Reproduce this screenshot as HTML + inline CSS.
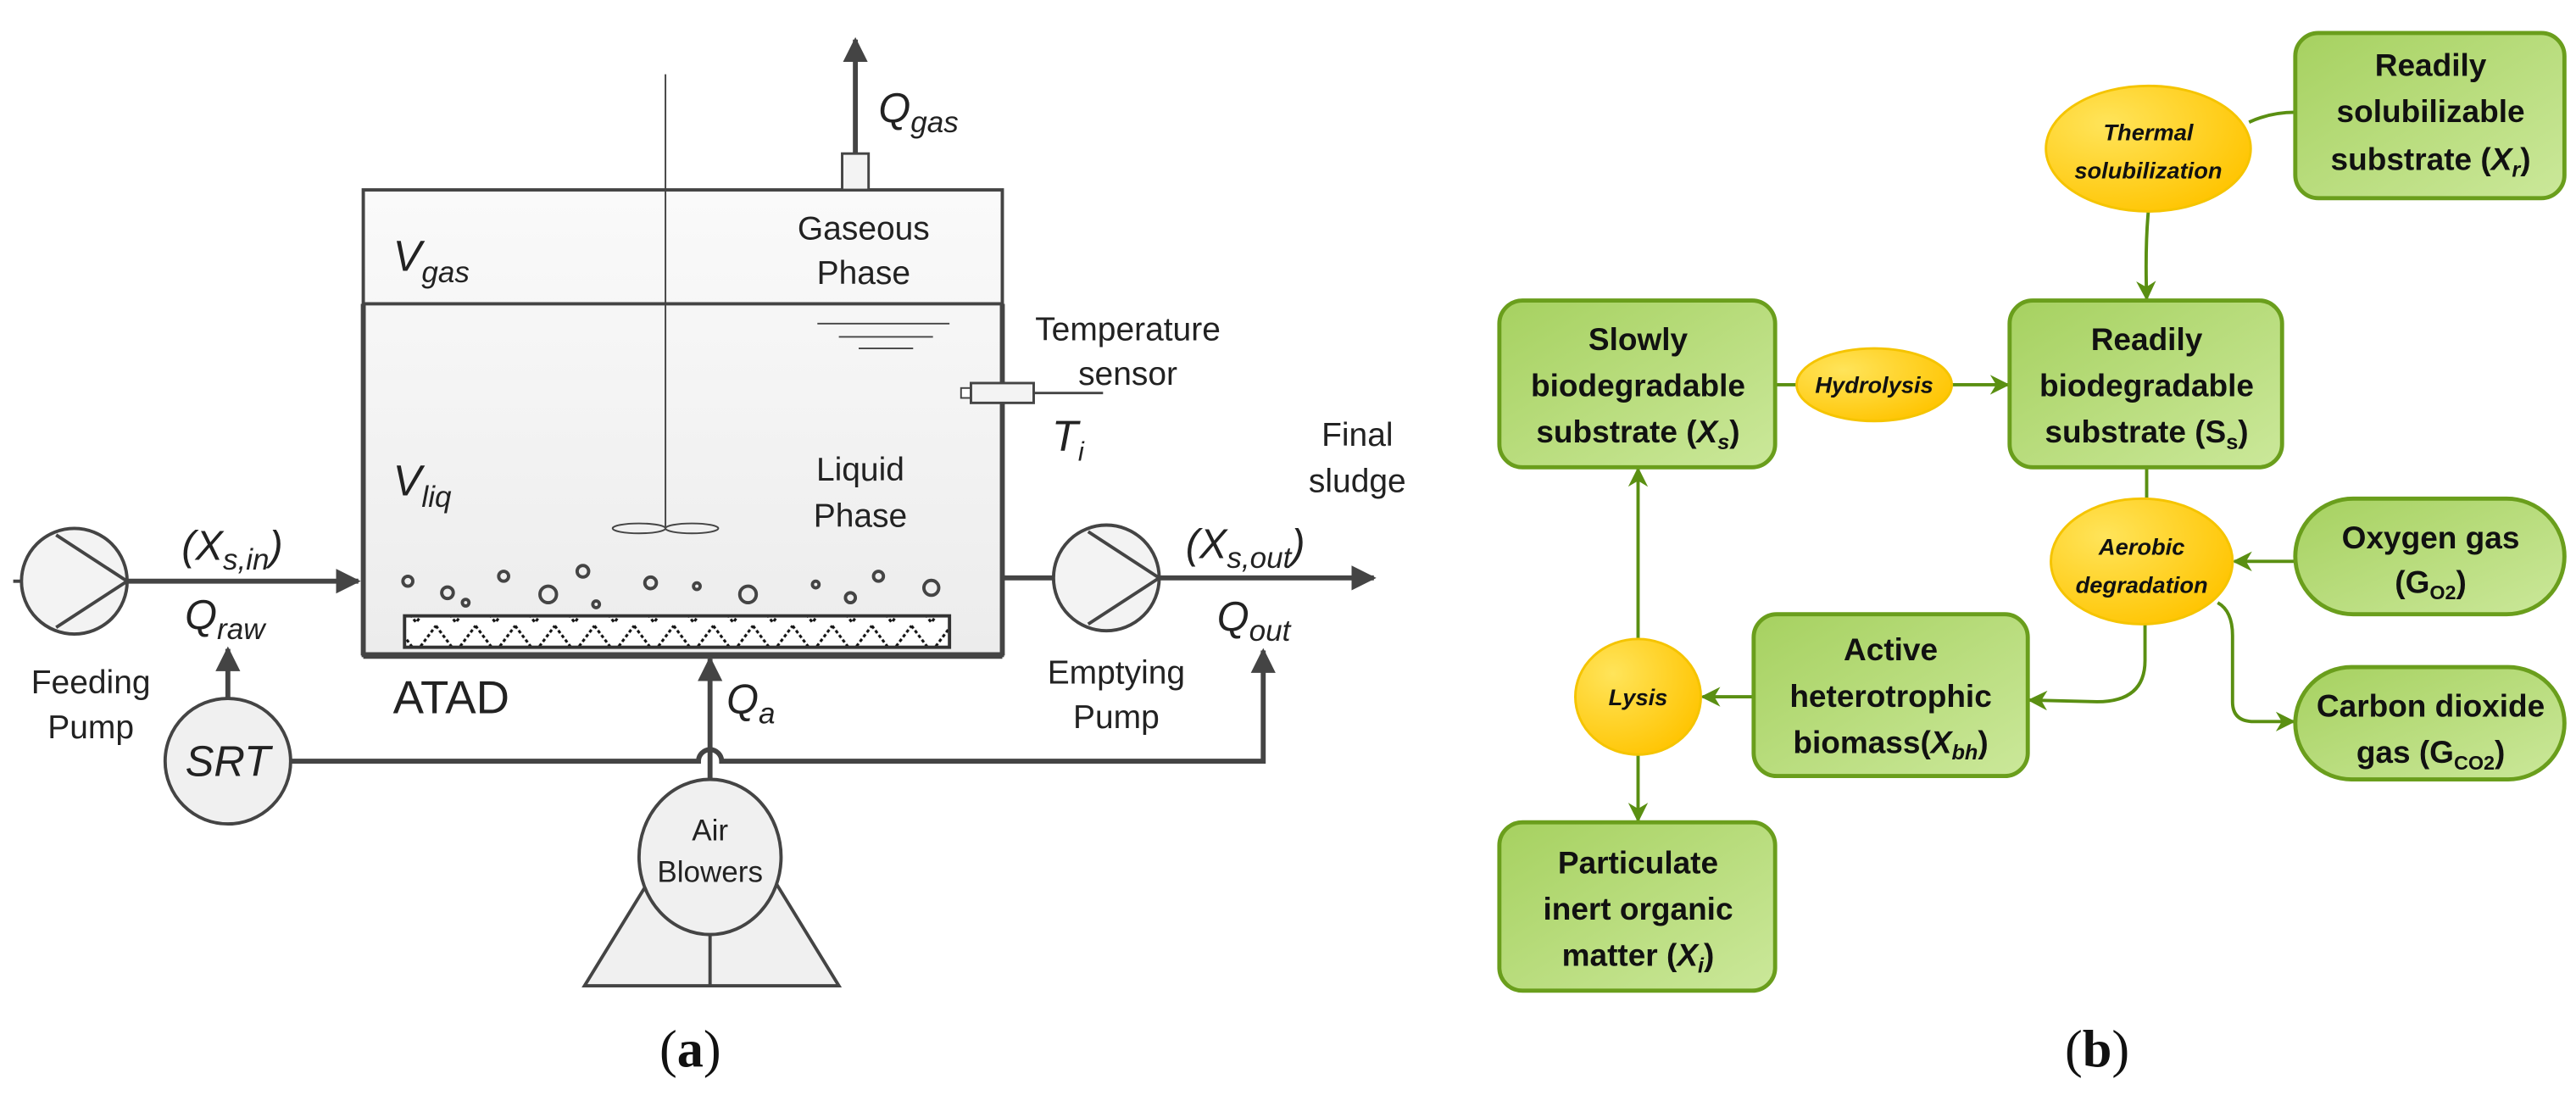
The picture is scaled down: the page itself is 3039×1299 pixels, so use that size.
<!DOCTYPE html>
<html><head><meta charset="utf-8"><style>
html,body{margin:0;padding:0;background:#fff;}
svg{display:block;}
.a{font-family:"Liberation Sans",sans-serif;fill:#222;}
.b{font-family:"Liberation Sans",sans-serif;fill:#111;font-size:19px;font-weight:bold;text-anchor:middle;}
.e{font-family:"Liberation Sans",sans-serif;fill:#111;font-size:14px;font-style:italic;font-weight:bold;text-anchor:middle;}
</style></head><body>
<svg width="3039" height="1299" viewBox="0 0 1560 666.8" xmlns="http://www.w3.org/2000/svg">
<defs>
<marker id="ar" viewBox="0 0 10 10" refX="9" refY="5" markerWidth="5" markerHeight="5" orient="auto-start-reverse"><path d="M0,0 L10,5 L0,10 z" fill="#444"/></marker>
<marker id="ag" viewBox="0 0 10 10" refX="9" refY="5" markerWidth="6" markerHeight="6" orient="auto-start-reverse"><path d="M0,0 L10,5 L0,10 L3,5 z" fill="#5a8f12"/></marker>
<linearGradient id="gt" x1="0" y1="0" x2="0" y2="1"><stop offset="0" stop-color="#fafafa"/><stop offset="1" stop-color="#ececec"/></linearGradient>
<linearGradient id="gg" x1="0" y1="0" x2="1" y2="1"><stop offset="0" stop-color="#a6d160"/><stop offset="1" stop-color="#cbe89a"/></linearGradient>
<radialGradient id="gy" cx="0.3" cy="0.3" r="0.8"><stop offset="0" stop-color="#ffe45a"/><stop offset="1" stop-color="#ffc400"/></radialGradient>
<pattern id="zz" width="24" height="18" patternUnits="userSpaceOnUse"><rect width="24" height="18" fill="#fff"/><path d="M0,1 L12,17 L24,1" fill="none" stroke="#111" stroke-width="1.6" stroke-dasharray="2 1.5"/></pattern>
</defs>

<!-- (a) tank -->
<rect x="220" y="115" width="387" height="282" fill="url(#gt)" stroke="#444" stroke-width="2"/>
<line x1="220" y1="184" x2="607" y2="184" stroke="#444" stroke-width="2"/>
<line x1="220" y1="397" x2="607" y2="397" stroke="#444" stroke-width="4"/>
<line x1="220" y1="184" x2="220" y2="397" stroke="#444" stroke-width="3"/>
<line x1="607" y1="184" x2="607" y2="397" stroke="#444" stroke-width="3"/>
<rect x="510" y="93" width="16" height="22" fill="#f3f3f3" stroke="#444" stroke-width="1.5"/>
<line x1="518" y1="93" x2="518" y2="24" stroke="#444" stroke-width="3" marker-end="url(#ar)"/>
<text class="a" x="532" y="74" font-size="25" font-style="italic">Q<tspan font-size="18" dy="6">gas</tspan></text>
<line x1="403" y1="45" x2="403" y2="320" stroke="#444" stroke-width="1"/>
<ellipse cx="387" cy="320" rx="16" ry="3" fill="none" stroke="#444" stroke-width="1"/>
<ellipse cx="419" cy="320" rx="16" ry="3" fill="none" stroke="#444" stroke-width="1"/>
<text class="a" x="238" y="164" font-size="26" font-style="italic">V<tspan font-size="18" dy="7">gas</tspan></text>
<text class="a" x="523" y="145" font-size="20" text-anchor="middle">Gaseous</text>
<text class="a" x="523" y="172" font-size="20" text-anchor="middle">Phase</text>
<g stroke="#444" stroke-width="1"><line x1="495" y1="196" x2="575" y2="196"/><line x1="508" y1="204" x2="565" y2="204"/><line x1="520" y1="211" x2="553" y2="211"/></g>
<rect x="582" y="235" width="6" height="6" fill="#fff" stroke="#444"/>
<rect x="588" y="232" width="38" height="12" fill="#f3f3f3" stroke="#444" stroke-width="1.5"/>
<line x1="626" y1="238" x2="668" y2="238" stroke="#444" stroke-width="1.5"/>
<text class="a" x="683" y="206" font-size="20" text-anchor="middle">Temperature</text>
<text class="a" x="683" y="233" font-size="20" text-anchor="middle">sensor</text>
<text class="a" x="637" y="273" font-size="26" font-style="italic">T<tspan font-size="16" dy="6">i</tspan></text>
<text class="a" x="238" y="300" font-size="26" font-style="italic">V<tspan font-size="18" dy="7">liq</tspan></text>
<text class="a" x="521" y="291" font-size="20" text-anchor="middle">Liquid</text>
<text class="a" x="521" y="319" font-size="20" text-anchor="middle">Phase</text>
<g fill="none" stroke="#444" stroke-width="2">
<circle cx="247" cy="352" r="3"/><circle cx="271" cy="359" r="3.5"/><circle cx="282" cy="365" r="2"/><circle cx="305" cy="349" r="3"/><circle cx="332" cy="360" r="5"/><circle cx="353" cy="346" r="3.5"/><circle cx="361" cy="366" r="2"/><circle cx="394" cy="353" r="3.5"/><circle cx="422" cy="355" r="2"/><circle cx="453" cy="360" r="5"/><circle cx="494" cy="354" r="2"/><circle cx="515" cy="362" r="3"/><circle cx="532" cy="349" r="3"/><circle cx="564" cy="356" r="4.5"/>
</g>
<rect x="245" y="373" width="330" height="19" fill="url(#zz)" stroke="#333" stroke-width="2"/>
<text class="a" x="238" y="432" font-size="28">ATAD</text>
<!-- feeding pump -->
<line x1="8" y1="352" x2="13" y2="352" stroke="#444" stroke-width="2"/>
<circle cx="45" cy="352" r="32" fill="#f3f3f3" stroke="#444" stroke-width="2"/>
<path d="M34,324 L77,352 L34,380" fill="none" stroke="#444" stroke-width="2"/>
<line x1="77" y1="352" x2="217" y2="352" stroke="#444" stroke-width="3" marker-end="url(#ar)"/>
<text class="a" x="110" y="339" font-size="25" font-style="italic">(X<tspan font-size="18" dy="6">s,in</tspan><tspan dy="-6">)</tspan></text>
<text class="a" x="112" y="381" font-size="25" font-style="italic">Q<tspan font-size="18" dy="6">raw</tspan></text>
<text class="a" x="55" y="420" font-size="20" text-anchor="middle">Feeding</text>
<text class="a" x="55" y="447" font-size="20" text-anchor="middle">Pump</text>
<!-- SRT -->
<circle cx="138" cy="461" r="38" fill="#f0f0f0" stroke="#444" stroke-width="2"/>
<text class="a" x="138" y="470" font-size="26" font-style="italic" text-anchor="middle">SRT</text>
<line x1="138" y1="423" x2="138" y2="393" stroke="#444" stroke-width="3" marker-end="url(#ar)"/>
<path d="M176,461 L423,461 A7,7 0 0 1 437,461 L765,461 L765,394" fill="none" stroke="#444" stroke-width="3" marker-end="url(#ar)"/>
<line x1="430" y1="473" x2="430" y2="399" stroke="#444" stroke-width="3" marker-end="url(#ar)"/>
<text class="a" x="440" y="432" font-size="25" font-style="italic">Q<tspan font-size="18" dy="6">a</tspan></text>
<!-- air blowers -->
<path d="M392,535 L354,597 L508,597 L470,535" fill="#f0f0f0" stroke="#444" stroke-width="2"/>
<line x1="430" y1="565" x2="430" y2="597" stroke="#444" stroke-width="2"/>
<ellipse cx="430" cy="519" rx="43" ry="47" fill="#f0f0f0" stroke="#444" stroke-width="2"/>
<text class="a" x="430" y="509" font-size="18" text-anchor="middle">Air</text>
<text class="a" x="430" y="534" font-size="18" text-anchor="middle">Blowers</text>
<!-- emptying pump -->
<line x1="607" y1="350" x2="638" y2="350" stroke="#444" stroke-width="3"/>
<circle cx="670" cy="350" r="32" fill="#f3f3f3" stroke="#444" stroke-width="2"/>
<path d="M659,322 L702,350 L659,378" fill="none" stroke="#444" stroke-width="2"/>
<line x1="702" y1="350" x2="832" y2="350" stroke="#444" stroke-width="3" marker-end="url(#ar)"/>
<text class="a" x="718" y="338" font-size="25" font-style="italic">(X<tspan font-size="18" dy="6">s,out</tspan><tspan dy="-6">)</tspan></text>
<text class="a" x="737" y="382" font-size="25" font-style="italic">Q<tspan font-size="18" dy="6">out</tspan></text>
<text class="a" x="822" y="270" font-size="20" text-anchor="middle">Final</text>
<text class="a" x="822" y="298" font-size="20" text-anchor="middle">sludge</text>
<text class="a" x="676" y="414" font-size="20" text-anchor="middle">Emptying</text>
<text class="a" x="676" y="441" font-size="20" text-anchor="middle">Pump</text>
<text x="418" y="646" font-family="Liberation Serif,serif" font-size="32" text-anchor="middle" fill="#111">(<tspan font-weight="bold">a</tspan>)</text>

<!-- (b) -->
<g fill="none" stroke="#5a8f12" stroke-width="2">
<path d="M1362,74 Q1375,68 1390,68"/>
<path d="M1301,128 Q1299,150 1300,181" marker-end="url(#ag)"/>
<line x1="1075" y1="233" x2="1089" y2="233"/>
<line x1="1181" y1="233" x2="1216" y2="233" marker-end="url(#ag)"/>
<line x1="1300" y1="283" x2="1300" y2="303"/>
<line x1="1390" y1="340" x2="1353" y2="340" marker-end="url(#ag)"/>
<path d="M1343,365 Q1352,370 1352,385 L1352,425 Q1352,437 1365,437 L1389,437" marker-end="url(#ag)"/>
<path d="M1299,378 L1299,400 Q1299,425 1270,425 L1229,424" marker-end="url(#ag)"/>
<line x1="1062" y1="422" x2="1031" y2="422" marker-end="url(#ag)"/>
<line x1="992" y1="387" x2="992" y2="284" marker-end="url(#ag)"/>
<line x1="992" y1="457" x2="992" y2="497" marker-end="url(#ag)"/>
</g>
<g fill="url(#gg)" stroke="#6a9e1c" stroke-width="2.5">
<rect x="1390" y="20" width="163" height="100" rx="14"/>
<rect x="908" y="182" width="167" height="101" rx="14"/>
<rect x="1217" y="182" width="165" height="101" rx="14"/>
<rect x="1390" y="302" width="163" height="70" rx="35"/>
<rect x="1390" y="404" width="163" height="68" rx="34"/>
<rect x="1062" y="372" width="166" height="98" rx="14"/>
<rect x="908" y="498" width="167" height="102" rx="14"/>
</g>
<g fill="url(#gy)" stroke="#f5c400" stroke-width="1.5">
<ellipse cx="1301" cy="90" rx="62" ry="38"/>
<ellipse cx="1135" cy="233" rx="47" ry="22"/>
<ellipse cx="1297" cy="340" rx="55" ry="38"/>
<ellipse cx="992" cy="422" rx="38" ry="35"/>
</g>
<text class="e" x="1301" y="85">Thermal</text><text class="e" x="1301" y="108">solubilization</text>
<text class="e" x="1135" y="238">Hydrolysis</text>
<text class="e" x="1297" y="336">Aerobic</text><text class="e" x="1297" y="359">degradation</text>
<text class="e" x="992" y="427">Lysis</text>
<text class="b" x="1472" y="46">Readily</text><text class="b" x="1472" y="74">solubilizable</text><text class="b" x="1472" y="103">substrate (<tspan font-style="italic">X</tspan><tspan font-size="13" dy="4" font-style="italic">r</tspan><tspan dy="-4">)</tspan></text>
<text class="b" x="992" y="212">Slowly</text><text class="b" x="992" y="240">biodegradable</text><text class="b" x="992" y="268">substrate (<tspan font-style="italic">X</tspan><tspan font-size="13" dy="4" font-style="italic">s</tspan><tspan dy="-4">)</tspan></text>
<text class="b" x="1300" y="212">Readily</text><text class="b" x="1300" y="240">biodegradable</text><text class="b" x="1300" y="268">substrate (S<tspan font-size="13" dy="4">s</tspan><tspan dy="-4">)</tspan></text>
<text class="b" x="1472" y="332">Oxygen gas</text><text class="b" x="1472" y="359">(G<tspan font-size="12" dy="4">O2</tspan><tspan dy="-4">)</tspan></text>
<text class="b" x="1472" y="434">Carbon dioxide</text><text class="b" x="1472" y="462">gas (G<tspan font-size="12" dy="4">CO2</tspan><tspan dy="-4">)</tspan></text>
<text class="b" x="1145" y="400">Active</text><text class="b" x="1145" y="428">heterotrophic</text><text class="b" x="1145" y="456">biomass(<tspan font-style="italic">X</tspan><tspan font-size="13" dy="4" font-style="italic">bh</tspan><tspan dy="-4">)</tspan></text>
<text class="b" x="992" y="529">Particulate</text><text class="b" x="992" y="557">inert organic</text><text class="b" x="992" y="585">matter (<tspan font-style="italic">X</tspan><tspan font-size="13" dy="4" font-style="italic">i</tspan><tspan dy="-4">)</tspan></text>
<text x="1270" y="646" font-family="Liberation Serif,serif" font-size="32" text-anchor="middle" fill="#111">(<tspan font-weight="bold">b</tspan>)</text>
</svg>
</body></html>
